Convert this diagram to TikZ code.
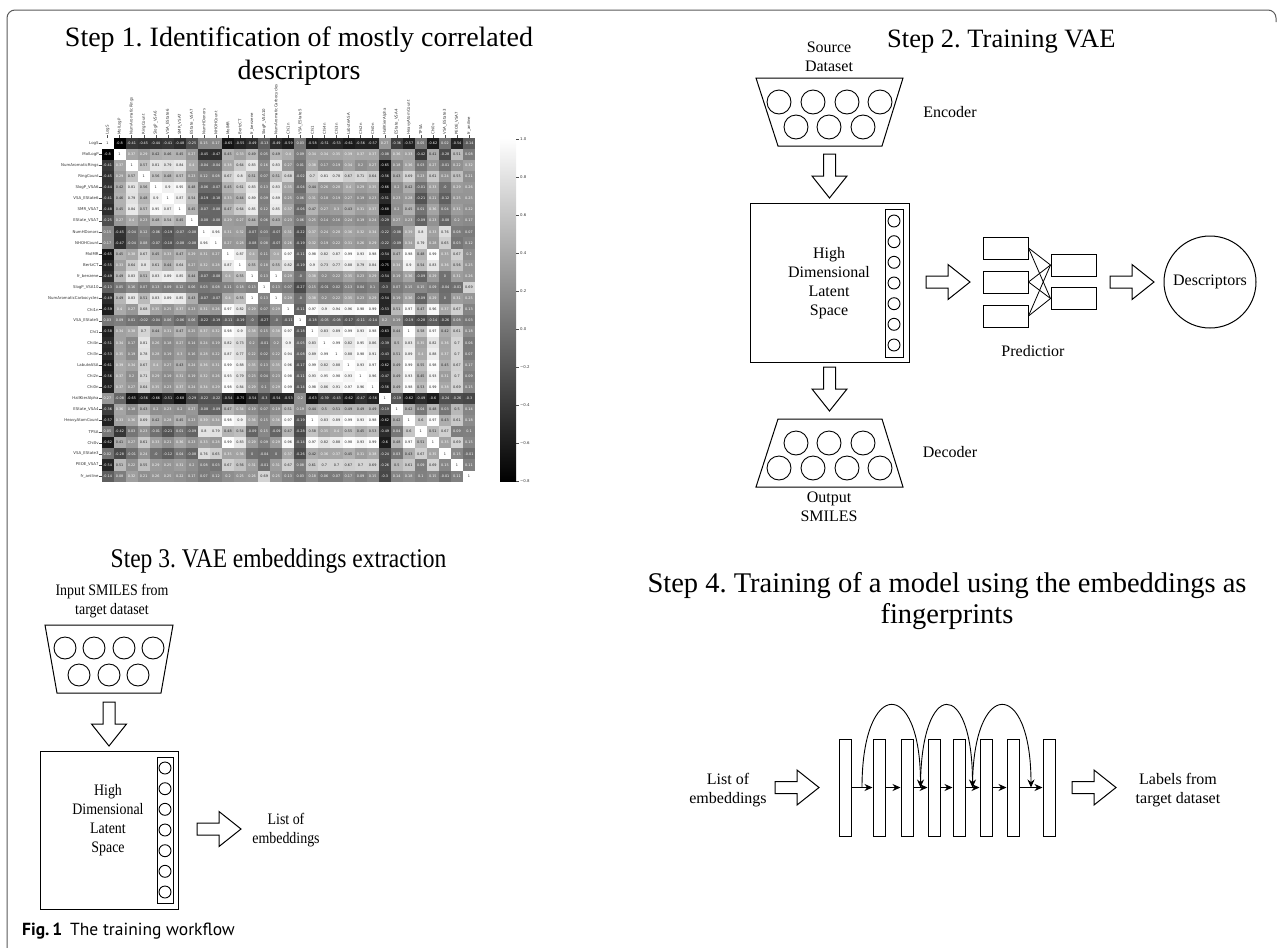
\documentclass[tikz,border=0pt]{standalone}
\usepackage{fontspec}
\setmainfont{Liberation Serif}
\newfontfamily\hmfont{DejaVu Sans}
\newfontfamily\capfont{PT Sans}
\usetikzlibrary{calc,arrows.meta}
\frenchspacing

% one cell of the correlation heat map: row, column, value
\newcommand\hmcell[3]{%
  \pgfmathsetmacro\gl{max(0,min(100,100*((#3)+0.8)/1.8))}%
  \pgfmathsetmacro\cx{101.5+12.05*#2}%
  \pgfmathsetmacro\cy{137.5+11.1*#1}%
  \fill[white!\gl!black] (\cx,\cy) rectangle ++(12.3,11.35);
  \ifdim\gl pt<67pt\def\tc{white}\else\def\tc{black!85}\fi
  \node[hmval,text=\tc] (v-#1-#2) at (\cx+6.025,\cy+5.55) {#3};
}
% the Step 3 panel is set slightly narrower than it is tall
\newcommand\narrow[1]{\scalebox{0.87}[1]{\begin{tabular}{@{}c@{}}#1\end{tabular}}}

\begin{document}
\begin{tikzpicture}[x=1pt,y=-1pt,
  neuron/.style={circle, draw, line width=0.9pt, inner sep=0pt},
  layerbox/.style={draw, line width=1pt, inner sep=0pt},
  txt/.style={font=\fontsize{16}{19}\selectfont, align=center, inner sep=0pt},
  steptitle/.style={font=\fontsize{27}{31}\selectfont, inner sep=0pt},
  hmval/.style={font=\hmfont\fontsize{3.4}{4}\selectfont, inner sep=0pt},
  hmlab/.style={font=\hmfont\fontsize{3.9}{4.5}\selectfont, text=black!80, inner sep=0pt},
  flow/.style={-{Stealth[length=8pt,width=7pt]}, line width=0.9pt},
  link/.style={line width=0.8pt},
  pics/rbarrow/.style={code={\draw[line width=1pt, fill=white]
    (0,-6) -- (22,-6) -- (22,-17.5) -- (44,0) -- (22,17.5) -- (22,6) -- (0,6) -- cycle;}},
  pics/dbarrow/.style={code={\draw[line width=1pt, fill=white]
    (-6,0) -- (-6,22) -- (-17.5,22) -- (0,44) -- (17.5,22) -- (6,22) -- (6,0) -- cycle;}}
]
\useasboundingbox (0,0) rectangle (1283,948);

% figure frame
\draw[black!65, line width=1pt, rounded corners=8] (7,949) -- (7,10) -- (1276,10) -- (1276,22);

% ---------------- Step 1: correlation heat map ----------------
\node[steptitle, font=\fontsize{28}{32}\selectfont, anchor=base] (t1a) at (299,46) {Step 1. Identification of mostly correlated};
\node[steptitle, font=\fontsize{28}{32}\selectfont, anchor=base] (t1b) at (299,79) {descriptors};

\foreach \lst [count=\i from 0] in {
 {1,-0.8,-0.41,-0.45,-0.44,-0.41,-0.48,-0.25,0.15,0.17,-0.65,-0.55,-0.49,-0.13,-0.49,-0.59,0.03,-0.58,-0.51,-0.53,-0.61,-0.56,-0.57,0.27,-0.36,-0.57,0.05,-0.62,0.02,-0.54,-0.14},
 {1,0.37,0.29,0.42,0.46,0.45,0.27,-0.45,-0.47,0.45,0.33,0.49,0.05,0.49,0.4,0.09,0.34,0.34,0.35,0.39,0.37,0.37,-0.08,0.36,0.33,-0.42,0.41,-0.28,0.51,0.08},
 {1,0.57,0.81,0.79,0.84,0.4,-0.04,-0.04,0.38,0.64,0.83,0.16,0.83,0.27,0.01,0.38,0.17,0.19,0.34,0.2,0.27,-0.65,0.18,0.36,0.03,0.27,-0.01,0.22,0.32},
 {1,0.56,0.48,0.57,0.23,0.12,0.08,0.67,0.8,0.51,0.07,0.51,0.68,-0.02,0.7,0.81,0.78,0.67,0.71,0.64,-0.56,0.43,0.69,0.23,0.61,0.24,0.55,0.21},
 {1,0.9,0.95,0.48,-0.06,-0.07,0.45,0.61,0.83,0.13,0.83,0.35,-0.04,0.44,0.26,0.28,0.4,0.29,0.35,-0.66,0.2,0.42,-0.01,0.33,-0,0.29,0.26},
 {1,0.87,0.54,-0.19,-0.18,0.33,0.44,0.89,0.09,0.89,0.25,0.06,0.31,0.18,0.19,0.27,0.19,0.23,-0.51,0.23,0.28,-0.21,0.21,-0.12,0.25,0.25},
 {1,0.45,-0.07,-0.08,0.47,0.64,0.85,0.12,0.85,0.37,-0.06,0.47,0.27,0.3,0.43,0.31,0.37,-0.68,0.2,0.45,0.01,0.36,0.04,0.31,0.22},
 {1,-0.08,-0.08,0.29,0.27,0.44,0.06,0.43,0.23,0.06,0.25,0.14,0.16,0.24,0.19,0.24,-0.29,0.27,0.23,-0.09,0.23,-0.08,0.2,0.17},
 {1,0.96,0.31,0.32,-0.07,0.03,-0.07,0.31,-0.22,0.37,0.24,0.28,0.36,0.32,0.34,-0.22,-0.08,0.39,0.8,0.33,0.76,0.08,0.07},
 {1,0.27,0.28,-0.08,0.08,-0.07,0.26,-0.19,0.32,0.19,0.22,0.31,0.26,0.29,-0.22,-0.09,0.34,0.79,0.28,0.65,0.03,0.12},
 {1,0.87,0.4,0.11,0.4,0.97,-0.11,0.98,0.82,0.87,0.99,0.93,0.98,-0.54,0.47,0.98,0.48,0.99,0.35,0.67,0.2},
 {1,0.55,0.18,0.55,0.82,-0.19,0.9,0.73,0.77,0.88,0.79,0.84,-0.75,0.34,0.9,0.54,0.83,0.36,0.56,0.25},
 {1,0.13,1,0.29,-0,0.38,0.2,0.22,0.35,0.23,0.29,-0.54,0.19,0.36,-0.09,0.29,0,0.31,0.26},
 {1,0.13,0.07,-0.27,0.15,-0.01,0.02,0.13,0.04,0.1,-0.3,0.07,0.15,0.15,0.09,-0.04,-0.01,0.69},
 {1,0.29,-0,0.38,0.2,0.22,0.35,0.23,0.29,-0.54,0.19,0.36,-0.09,0.29,0,0.31,0.25},
 {1,-0.11,0.97,0.9,0.94,0.96,0.98,0.99,-0.53,0.51,0.97,0.47,0.96,0.37,0.67,0.13},
 {1,-0.18,-0.05,-0.08,-0.17,-0.11,-0.14,0.2,0.19,-0.19,-0.28,-0.14,-0.26,0.08,0.03},
 {1,0.83,0.89,0.99,0.93,0.98,-0.63,0.44,1,0.58,0.97,0.42,0.61,0.18},
 {1,0.99,0.82,0.95,0.86,-0.39,0.5,0.83,0.35,0.82,0.36,0.7,0.06},
 {1,0.88,0.98,0.91,-0.43,0.51,0.89,0.4,0.88,0.37,0.7,0.07},
 {1,0.93,0.97,-0.62,0.49,0.99,0.55,0.98,0.45,0.67,0.17},
 {1,0.96,-0.47,0.49,0.93,0.45,0.93,0.31,0.7,0.09},
 {1,-0.56,0.49,0.98,0.53,0.99,0.38,0.69,0.15},
 {1,-0.19,-0.62,-0.49,-0.6,-0.24,-0.26,-0.3},
 {1,0.42,0.04,0.48,0.03,0.5,0.14},
 {1,0.6,0.97,0.43,0.61,0.18},
 {1,0.51,0.67,0.09,0.1},
 {1,0.35,0.69,0.15},
 {1,0.15,-0.01},
 {1,0.11},
 {1}} {
  \foreach \v [count=\k from 0] in \lst {
    \pgfmathtruncatemacro\j{\i+\k}
    \hmcell{\i}{\j}{\v}
    \ifnum\k>0 \hmcell{\j}{\i}{\v}\fi
  }
}

% axis labels of the heat map
\foreach \nm [count=\n from 0] in {LogS,MolLogP,NumAromaticRings,RingCount,SlogP\_VSA6,VSA\_EState6,SMR\_VSA7,EState\_VSA7,NumHDonors,NHOHCount,MolMR,BertzCT,fr\_benzene,SlogP\_VSA10,NumAromaticCarbocycles,Chi1n,VSA\_EState5,Chi1,Chi4n,Chi3n,LabuteASA,Chi2n,Chi0n,HallKierAlpha,EState\_VSA4,HeavyAtomCount,TPSA,Chi0v,VSA\_EState3,PEOE\_VSA7,fr\_aniline} {
  \pgfmathsetmacro\ry{137.5+11.1*\n+5.55}
  \pgfmathsetmacro\rx{101.5+12.05*\n+6.025}
  \draw[black!70, line width=0.3pt] (99.3,\ry) -- (101.5,\ry);
  \node[hmlab, anchor=east] (rl-\n) at (98.8,\ry) {\nm};
  \draw[black!70, line width=0.3pt] (\rx,135.3) -- (\rx,137.5);
  \node[hmlab, anchor=west, rotate=90] (cl-\n) at (\rx,134.8) {\nm};
}

% colour bar
\shade[top color=white, bottom color=black] (500,137.5) rectangle (516,481.5);
\foreach \t/\s [count=\n] in {1.0/1.0,0.8/0.8,0.6/0.6,0.4/0.4,0.2/0.2,0.0/0.0,-0.2/−0.2,-0.4/−0.4,-0.6/−0.6,-0.8/−0.8} {
  \pgfmathsetmacro\ty{138.7+(1-\t)*190}
  \draw[black!70, line width=0.3pt] (516,\ty) -- (518.5,\ty);
  \node[hmlab, anchor=west] (cb-\n) at (520,\ty) {\s};
}

% ---------------- Step 2: training the VAE ----------------
\node[steptitle, font=\fontsize{26.5}{31}\selectfont, anchor=base west] (t2) at (887,47) {Step 2. Training VAE};
\node[txt] (src) at (829,57) {Source\\Dataset};

\draw[line width=1pt] (756,78) -- (903,78) -- (882,146) -- (778,146) -- cycle;
\foreach \x [count=\n] in {779,813,847,880} \node[neuron, minimum size=24] (ea\n) at (\x,102) {};
\foreach \x [count=\n] in {796,829,863} \node[neuron, minimum size=24] (eb\n) at (\x,127) {};
\node[txt] (enclab) at (950,112) {Encoder};

\pic at (829.5,154) {dbarrow};

\node[layerbox, minimum width=159, minimum height=159] (lat2) at (829.5,282.5) {};
\node[layerbox, minimum width=18, minimum height=148] (col2) at (894,283) {};
\foreach \y [count=\n] in {221,241.7,262.3,283,303.7,324.3,345} \node[neuron, minimum size=12] (z\n) at (894,\y) {};
\node[txt] (lat2txt) at (829,283) {High\\Dimensional\\Latent\\Space};

\pic at (926,282) {rbarrow};
\pic at (829.5,367) {dbarrow};

\draw[line width=1pt] (778,419) -- (882,419) -- (903,487) -- (756,487) -- cycle;
\foreach \x [count=\n] in {796,829,863} \node[neuron, minimum size=24] (da\n) at (\x,443) {};
\foreach \x [count=\n] in {779,813,847,880} \node[neuron, minimum size=24] (db\n) at (\x,468) {};
\node[txt] (declab) at (950,452) {Decoder};
\node[txt] (out) at (829,507) {Output\\SMILES};

% predictor network
\foreach \y [count=\n] in {248,282,316} \node[layerbox, minimum width=45, minimum height=22] (p\n) at (1005.5,\y) {};
\foreach \y [count=\n] in {265,298.5} \node[layerbox, minimum width=45, minimum height=22] (q\n) at (1073.5,\y) {};
\foreach \a in {1,2,3} \foreach \b in {1,2} \draw[link] (p\a.east) -- (q\b.west);
\node[txt] (predlab) at (1033,351) {Predictior};
\pic at (1110,282) {rbarrow};
\node[circle, draw, line width=1pt, minimum size=92, inner sep=0pt, font=\fontsize{16}{19}\selectfont] (desc) at (1210,282) {Descriptors};

% ---------------- Step 3: embedding extraction ----------------
\node[steptitle, anchor=base] (t3) at (278.5,567) {\scalebox{0.87}[1]{Step 3. VAE embeddings extraction}};
\node[txt] (inp) at (112,601) {\narrow{Input SMILES from\\target dataset}};
\draw[line width=1pt] (45,625) -- (173,625) -- (161,693) -- (57,693) -- cycle;
\foreach \x [count=\n] in {65,94,124,153} \node[neuron, minimum width=20, minimum height=22] (fa\n) at (\x,648) {};
\foreach \x [count=\n] in {79,109,138} \node[neuron, minimum width=20, minimum height=22] (fb\n) at (\x,675) {};
\pic at (109,702) {dbarrow};

\node[layerbox, minimum width=138, minimum height=158] (lat3) at (109,830) {};
\node[layerbox, minimum width=16, minimum height=146] (col3) at (165,830) {};
\foreach \y [count=\n] in {768,788.7,809.3,830,850.7,871.3,892} \node[neuron, minimum width=10.5, minimum height=12] (w\n) at (165,\y) {};
\node[txt] (lat3txt) at (108,820) {\narrow{High\\Dimensional\\Latent\\Space}};
\pic at (197,829) {rbarrow};
\node[txt] (emb3) at (286,830) {\narrow{List of\\embeddings}};

% ---------------- Step 4: downstream model ----------------
\node[steptitle, font=\fontsize{28.5}{32}\selectfont, anchor=base] (t4a) at (947,592) {Step 4. Training of a model using the embeddings as};
\node[steptitle, font=\fontsize{28.5}{32}\selectfont, anchor=base] (t4b) at (947,623) {fingerprints};

\node[txt] (emb4) at (728,790) {List of\\embeddings};
\pic at (775,787.5) {rbarrow};
\foreach \x [count=\n] in {839,873,901,928,953,980,1007,1043}
  \node[layerbox, minimum width=12, minimum height=97] (r\n) at (\x+6,787.5) {};
\foreach \a/\b in {1/2,2/3,3/4,4/5,5/6,6/7,7/8} {
  \draw[flow] (r\a.east) -- (r\b.west);
  \coordinate (g\a) at ($(r\a.east)!0.5!(r\b.west)$);
}
\foreach \a/\b in {1/3,3/5,5/7}
  \draw[flow] (g\a) .. controls ($(g\a)+(0,-110)$) and ($(g\b)+(0,-110)$) .. (g\b);
\pic at (1072,787.5) {rbarrow};
\node[txt] (lab4) at (1178,790) {Labels from\\target dataset};

% caption
\node[anchor=base west, inner sep=0pt, font=\capfont\fontsize{17.5}{20}\selectfont] (cap) at (22,935)
  {\textbf{Fig.\,1}\hspace{0.45em}The training workflow};
\end{tikzpicture}
\end{document}
